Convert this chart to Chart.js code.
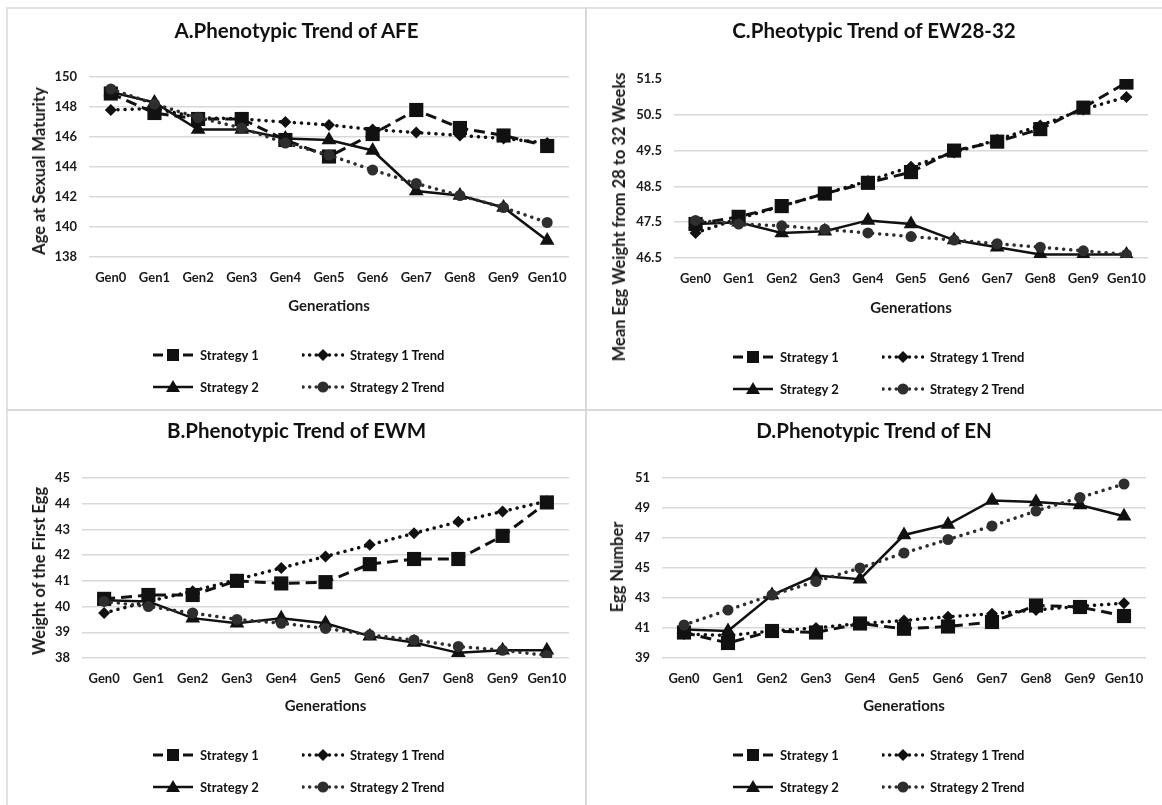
<!DOCTYPE html>
<html>
<head>
<meta charset="utf-8">
<script src="https://cdn.jsdelivr.net/npm/chart.js@4.4.1/dist/chart.umd.min.js"></script>
<style>
  html, body { margin: 0; padding: 0; background: #fff; }
  body { width: 1162px; height: 805px; position: relative; overflow: hidden; font-family: Lato, "Open Sans", sans-serif; }
  .panel { position: absolute; box-sizing: border-box; }
  .panel canvas { position: absolute; left: 0; top: 0; }
  .title { position: absolute; left: 0; right: 0; text-align: center; font-weight: bold; font-size: 20.5px; color: #111; }
  .ytitle { position: absolute; font-weight: bold; font-size: 16.5px; color: #1a1a1a; white-space: nowrap;
            transform: translate(-50%, -50%) rotate(-90deg); }
  .leg { position: absolute; display: flex; align-items: center; font-weight: bold; font-size: 13px; color: #111; white-space: nowrap; }
  .leg svg { margin-right: 6px; }
  .vline { position: absolute; left: 585px; top: 7px; width: 2px; height: 798px; background: #d9d9d9; }
  .hline { position: absolute; left: 6px; top: 409px; width: 1156px; height: 2px; background: #d9d9d9; }
  .topline { position: absolute; left: 6px; top: 7px; width: 1156px; height: 2px; background: #e3e3e3; }
  .leftline { position: absolute; left: 6px; top: 7px; width: 2px; height: 798px; background: #e3e3e3; }
</style>
</head>
<body>
<div class="topline"></div>
<div class="leftline"></div>
<div class="vline"></div>
<div class="hline"></div>

<script>
/* =========================
   DATA
========================= */
const generations = ["Gen0", "Gen1", "Gen2", "Gen3", "Gen4", "Gen5", "Gen6", "Gen7", "Gen8", "Gen9", "Gen10"];
const seriesNames = ["Strategy 1", "Strategy 1 Trend", "Strategy 2", "Strategy 2 Trend"];

// A. AFE
const afeStrategy1      = [148.9, 147.6, 147.2, 147.2, 145.8, 144.7, 146.2, 147.8, 146.6, 146.1, 145.4];
const afeStrategy1Trend = [147.8, 147.9, 147.3, 147.2, 147.0, 146.8, 146.5, 146.3, 146.1, 145.9, 145.6];
const afeStrategy2      = [149.0, 148.3, 146.5, 146.5, 145.9, 145.8, 145.1, 142.4, 142.1, 141.3, 139.1];
const afeStrategy2Trend = [149.2, 148.2, 147.3, 146.6, 145.6, 144.8, 143.8, 142.9, 142.1, 141.3, 140.3];
const afeTicks = { min: 138, max: 150, step: 2 };

// C. EW28-32
const ewStrategy1      = [47.45, 47.65, 47.95, 48.3, 48.6, 48.9, 49.5, 49.75, 50.1, 50.7, 51.4];
const ewStrategy1Trend = [47.2, 47.6, 47.95, 48.3, 48.65, 49.05, 49.45, 49.8, 50.2, 50.65, 51.0];
const ewStrategy2      = [47.45, 47.5, 47.2, 47.25, 47.55, 47.45, 47.0, 46.8, 46.6, 46.6, 46.6];
const ewStrategy2Trend = [47.55, 47.45, 47.4, 47.3, 47.2, 47.1, 47.0, 46.9, 46.8, 46.7, 46.6];
const ewTicks = { min: 46.5, max: 51.5, step: 1 };

// B. EWM
const ewmStrategy1      = [40.3, 40.45, 40.45, 41.0, 40.9, 40.95, 41.65, 41.85, 41.85, 42.75, 44.05];
const ewmStrategy1Trend = [39.75, 40.2, 40.6, 41.05, 41.5, 41.95, 42.4, 42.85, 43.3, 43.7, 44.1];
const ewmStrategy2      = [40.25, 40.2, 39.55, 39.35, 39.55, 39.35, 38.85, 38.6, 38.2, 38.3, 38.3];
const ewmStrategy2Trend = [40.2, 40.0, 39.75, 39.5, 39.35, 39.15, 38.9, 38.7, 38.45, 38.3, 38.1];
const ewmTicks = { min: 38, max: 45, step: 1 };

// D. EN
const enStrategy1      = [40.7, 40.0, 40.8, 40.7, 41.3, 40.95, 41.1, 41.4, 42.5, 42.4, 41.8];
const enStrategy1Trend = [40.6, 40.5, 40.8, 41.0, 41.3, 41.5, 41.75, 41.95, 42.2, 42.45, 42.65];
const enStrategy2      = [40.9, 40.8, 43.2, 44.5, 44.25, 47.2, 47.9, 49.5, 49.4, 49.2, 48.45];
const enStrategy2Trend = [41.2, 42.2, 43.2, 44.1, 45.0, 46.0, 46.9, 47.8, 48.8, 49.7, 50.6];
const enTicks = { min: 39, max: 51, step: 2 };

/* =========================
   PANELS (layout only)
========================= */
const panels = [
  { title: "A.Phenotypic Trend of AFE", yTitle: "Age at Sexual Maturity",
    data: [afeStrategy1, afeStrategy1Trend, afeStrategy2, afeStrategy2Trend], ticks: afeTicks,
    box: { x: 7, y: 8, w: 579, h: 402 }, area: { l: 82, r: 562, t: 69, b: 249 },
    yTitlePos: [32, 163], xTitleY: 298, titleY: 22, legX: [145, 295], legY: [347, 379], hideTop: false },
  { title: "C.Pheotypic Trend of EW28-32", yTitle: "Mean Egg Weight from 28 to 32 Weeks",
    data: [ewStrategy1, ewStrategy1Trend, ewStrategy2, ewStrategy2Trend], ticks: ewTicks,
    box: { x: 586, y: 8, w: 576, h: 402 }, area: { l: 88, r: 562, t: 71, b: 250 },
    yTitlePos: [33, 209], xTitleY: 300, titleY: 22, legX: [146, 296], legY: [349, 381], hideTop: true },
  { title: "B.Phenotypic Trend of EWM", yTitle: "Weight of the First Egg",
    data: [ewmStrategy1, ewmStrategy1Trend, ewmStrategy2, ewmStrategy2Trend], ticks: ewmTicks,
    box: { x: 7, y: 410, w: 579, h: 395 }, area: { l: 75, r: 562, t: 68, b: 248 },
    yTitlePos: [32, 161], xTitleY: 296, titleY: 20, legX: [145, 295], legY: [345, 377], hideTop: false },
  { title: "D.Phenotypic Trend of EN", yTitle: "Egg Number",
    data: [enStrategy1, enStrategy1Trend, enStrategy2, enStrategy2Trend], ticks: enTicks,
    box: { x: 586, y: 410, w: 576, h: 395 }, area: { l: 76, r: 560, t: 68, b: 248 },
    yTitlePos: [31, 157], xTitleY: 296, titleY: 20, legX: [146, 296], legY: [345, 377], hideTop: false }
];

/* =========================
   STYLES
========================= */
const ink = "#111";
const seriesStyles = [
  { borderWidth: 3, borderDash: [11, 6], borderCapStyle: "butt", pointStyle: "rect", pointRadius: 10, color: ink, order: 4 },
  { borderWidth: 3.5, borderDash: [0.1, 7], borderCapStyle: "round", pointStyle: "rectRot", pointRadius: 6, color: ink, order: 3 },
  { borderWidth: 2.5, borderDash: [], borderCapStyle: "butt", pointStyle: "triangle", pointRadius: 8.5, color: ink, order: 2 },
  { borderWidth: 3.5, borderDash: [0.1, 7], borderCapStyle: "round", pointStyle: "circle", pointRadius: 5.5, color: "#2e2e2e", order: 1 }
];

// Legend swatch as svg
function swatch(i) {
  const s = seriesStyles[i];
  const dash = i === 0 ? 'stroke-dasharray="10 5"' : (i === 2 ? "" : 'stroke-dasharray="0.1 6.5" stroke-linecap="round"');
  let marker = "";
  if (i === 0) marker = `<rect x="15" y="1" width="12" height="12" fill="${s.color}"/>`;
  if (i === 1) marker = `<polygon points="21,1 27,7 21,13 15,7" fill="${s.color}"/>`;
  if (i === 2) marker = `<polygon points="21,0 28,12 14,12" fill="${s.color}"/>`;
  if (i === 3) marker = `<circle cx="21" cy="7" r="5.5" fill="${s.color}"/>`;
  return `<svg width="42" height="14"><line x1="1" y1="7" x2="41" y2="7" stroke="${s.color}" stroke-width="${s.borderWidth}" ${dash}/>${marker}</svg>`;
}

/* =========================
   BUILD
========================= */
function buildPanel(p) {
  const div = document.createElement("div");
  div.className = "panel";
  div.style.left = p.box.x + "px";
  div.style.top = p.box.y + "px";
  div.style.width = p.box.w + "px";
  div.style.height = p.box.h + "px";

  const canvas = document.createElement("canvas");
  canvas.width = p.box.w;
  canvas.height = p.box.h;
  div.appendChild(canvas);

  const t = document.createElement("div");
  t.className = "title";
  t.style.top = (p.titleY - 12) + "px";
  t.textContent = p.title;
  div.appendChild(t);

  // y axis title (Excel shifts the long one downwards)
  const yt = document.createElement("div");
  yt.className = "ytitle";
  yt.style.left = p.yTitlePos[0] + "px";
  yt.style.top = p.yTitlePos[1] + "px";
  yt.textContent = p.yTitle;
  div.appendChild(yt);

  // legend 2 x 2
  [0, 1, 2, 3].forEach(i => {
    const item = document.createElement("div");
    item.className = "leg";
    item.style.left = p.legX[i % 2] + "px";
    item.style.top = (p.legY[Math.floor(i / 2)] - 8) + "px";
    item.innerHTML = swatch(i) + "<span>" + seriesNames[i] + "</span>";
    div.appendChild(item);
  });

  document.body.appendChild(div);

  const font = { family: "Lato", weight: "bold", size: 13 };
  const titleFont = { family: "Lato", weight: "bold", size: 15 };

  new Chart(canvas.getContext("2d"), {
    type: "line",
    data: {
      labels: generations,
      datasets: p.data.map((values, i) => {
        const s = seriesStyles[i];
        return {
          label: seriesNames[i],
          data: values,
          borderColor: s.color,
          backgroundColor: s.color,
          borderWidth: s.borderWidth,
          borderDash: s.borderDash,
          borderCapStyle: s.borderCapStyle,
          pointStyle: s.pointStyle,
          pointRadius: s.pointRadius,
          pointBorderWidth: 0,
          pointBackgroundColor: s.color,
          tension: 0,
          order: s.order
        };
      })
    },
    options: {
      responsive: false,
      animation: false,
      devicePixelRatio: 1,
      layout: { padding: { left: 0, top: p.area.t, right: p.box.w - p.area.r, bottom: 0 } },
      plugins: { legend: { display: false }, tooltip: { enabled: false } },
      scales: {
        x: {
          offset: true,
          grid: { display: false, drawTicks: false },
          border: { display: false },
          ticks: { color: "#1a1a1a", font: font, padding: 13, maxRotation: 0, autoSkip: false },
          title: { display: true, text: "Generations", color: "#1a1a1a", font: titleFont,
                   padding: { top: 0, bottom: p.box.h - p.xTitleY - 9 } },
          afterFit: s => { s.height = p.box.h - p.area.b; }
        },
        y: {
          min: p.ticks.min,
          max: p.ticks.max,
          grid: {
            drawTicks: false,
            lineWidth: 1.5,
            color: c => (p.hideTop && c.tick && c.tick.value === p.ticks.max) ? "rgba(0,0,0,0)" : "#d9d9d9"
          },
          border: { display: false },
          ticks: { stepSize: p.ticks.step, color: "#1a1a1a", font: font, padding: 12 },
          afterFit: s => { s.width = p.area.l; }
        }
      }
    }
  });
}

/* =========================
   INIT
========================= */
panels.forEach(buildPanel);
</script>
</body>
</html>
